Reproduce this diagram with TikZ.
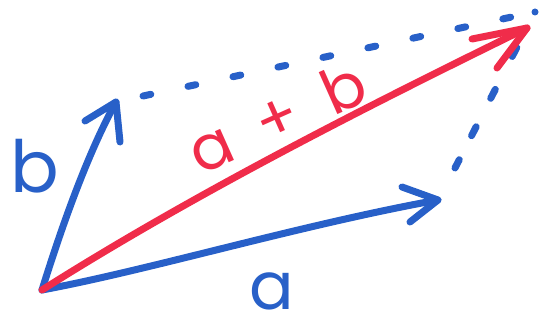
\documentclass[tikz,border=0pt]{standalone}
\usepackage{fontspec}
\setmainfont{Poppins}
\begin{document}
\begin{tikzpicture}[x=1pt,y=-1pt,
  pen/.style={line width=7pt,line cap=round,line join=round},
  bluepen/.style={pen,draw=penblue},
  redpen/.style={pen,draw=penred},
  lbl/.style={inner sep=0pt}]
\definecolor{penblue}{RGB}{40,96,200}
\definecolor{penred}{RGB}{240,44,74}
\useasboundingbox (0,0) rectangle (542,321);
% points
\coordinate (O) at (42,290);
\coordinate (A) at (438,200);
\coordinate (B) at (116,102);
\coordinate (S) at (527,28);
\coordinate (BB) at (143,96);
\coordinate (C) at (535,12);
\coordinate (AA) at (455,168);
% dashed sides
\draw[bluepen,dash pattern=on 8pt off 38pt] (BB) -- (C);
\draw[bluepen,dash pattern=on 0pt off 40pt on 10pt off 37pt on 10pt off 32pt on 10pt off 27pt on 11pt off 10pt] (C) -- (AA);
% vector b
\draw[bluepen] (O) .. controls (70,200) and (95,140) .. (B);
\draw[bluepen] (85,121) -- (B) -- (120,142);
% vector a
\draw[bluepen] (O) .. controls (150,270) and (300,225) .. (A);
\draw[bluepen] (402,187) -- (A) -- (410,222);
% vector a+b
\draw[redpen] (O) .. controls (200,190) and (380,100) .. (S);
\draw[redpen] (472,39) -- (S) -- (497,68);
% labels
\node[lbl,text=penblue,font=\fontsize{72}{72}\selectfont] (lb) at (35,166) {b};
\node[lbl,text=penblue,font=\fontsize{66}{66}\selectfont,anchor=base] (la) at (272,309) {a};
\node[lbl,text=penred,font=\fontsize{62}{62}\selectfont,rotate=24] (lab) at (277,117) {a\enspace+\enspace b};
\end{tikzpicture}
\end{document}
